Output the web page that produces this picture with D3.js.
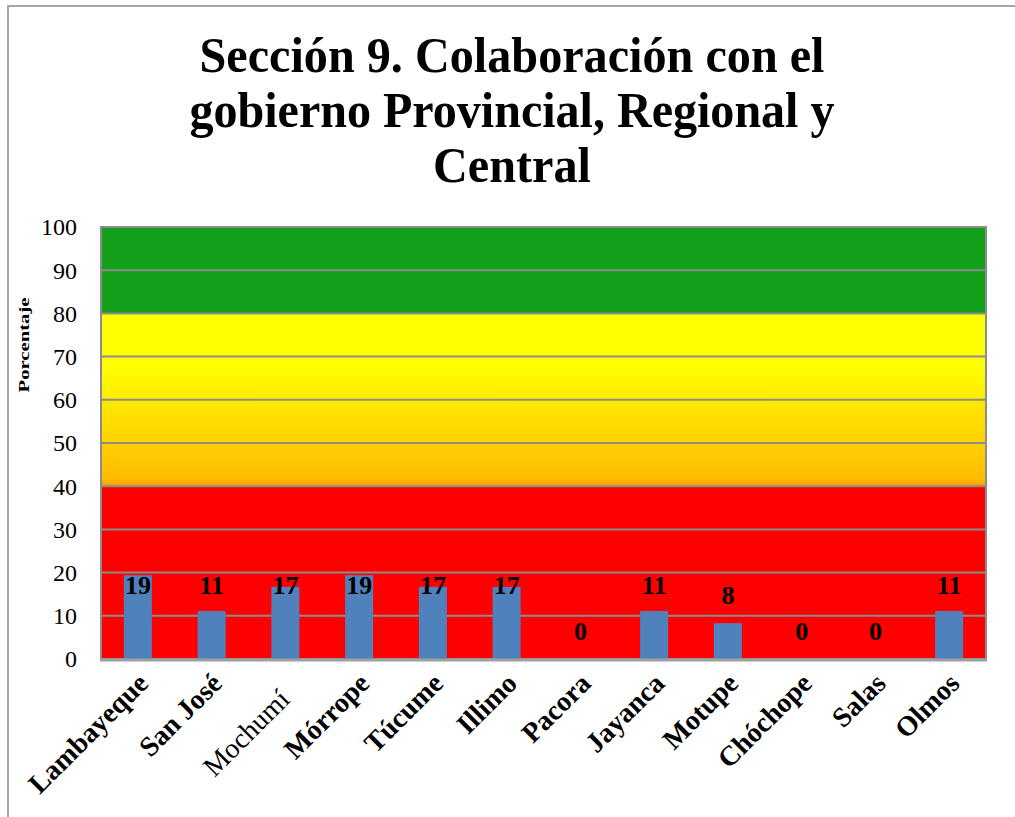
<!DOCTYPE html>
<meta charset="utf-8">
<title>Sección 9</title>
<style>
body { margin: 0; background: #fff; }
text { font-family: "Liberation Serif", "Times New Roman", serif; }
.grid line { stroke: #8c8c8c; stroke-width: 2; }
.title { font-weight: bold; font-size: 51px; }
.tick-y { font-size: 24px; }
.xlab { font-size: 28px; font-weight: bold; }
.val { font-size: 26px; font-weight: bold; }
</style>
<body>
<script src="https://d3js.org/d3.v7.min.js"></script>
<script>

// data
var distritos = ["Lambayeque", "San José", "Mochumí", "Mórrope", "Túcume", "Illimo",
                 "Pacora", "Jayanca", "Motupe", "Chóchope", "Salas", "Olmos"];
var porcentaje = [19.4, 11.1, 16.7, 19.4, 16.7, 16.7, 0, 11.1, 8.3, 0, 0, 11.1];
var yTicks = [0, 10, 20, 30, 40, 50, 60, 70, 80, 90, 100];
var bandLimits = [0, 40, 80, 100];   // red / yellow-orange / green
var titleLines = ["Sección 9. Colaboración con el", "gobierno Provincial, Regional y", "Central"];
var titleWidths = [625, 645, 158];

var W = 1015, H = 817;
var plot = {left: 101, right: 986, top: 227, bottom: 659};

var svg = d3.select("body").append("svg")
    .attr("width", W)
    .attr("height", H);

// outer frame
svg.append("rect")
    .attr("x", 8).attr("y", 6)
    .attr("width", W + 10).attr("height", H + 10)
    .attr("fill", "none")
    .attr("stroke", "#a6a6a6")
    .attr("stroke-width", 2);

var x = d3.scaleBand()
    .domain(distritos)
    .range([plot.left, plot.right])
    .paddingInner(0.62)
    .paddingOuter(0.31);

var y = d3.scaleLinear()
    .domain([0, 100])
    .range([plot.bottom, plot.top]);

// gradient for the middle band
var defs = svg.append("defs");
var grad = defs.append("linearGradient")
    .attr("id", "mid")
    .attr("x1", 0).attr("y1", 0).attr("x2", 0).attr("y2", 1);
grad.append("stop").attr("offset", "0%").attr("stop-color", "#ffff00");
grad.append("stop").attr("offset", "30%").attr("stop-color", "#ffff00");
grad.append("stop").attr("offset", "96%").attr("stop-color", "#ffbb00");
grad.append("stop").attr("offset", "100%").attr("stop-color", "#ff9900");

var bandFill = ["#ff0000", "url(#mid)", "#13a01a"];

svg.append("g").selectAll("rect")
    .data(d3.range(bandLimits.length - 1))
    .enter().append("rect")
    .attr("x", plot.left)
    .attr("width", plot.right - plot.left)
    .attr("y", function(i) { return y(bandLimits[i + 1]); })
    .attr("height", function(i) { return y(bandLimits[i]) - y(bandLimits[i + 1]); })
    .attr("fill", function(i) { return bandFill[i]; });

// gridlines
svg.append("g").attr("class", "grid")
    .selectAll("line")
    .data(yTicks)
    .enter().append("line")
    .attr("x1", plot.left).attr("x2", plot.right)
    .attr("y1", function(d) { return y(d); })
    .attr("y2", function(d) { return y(d); });

// plot border
svg.append("rect")
    .attr("x", plot.left).attr("y", plot.top)
    .attr("width", plot.right - plot.left)
    .attr("height", plot.bottom - plot.top)
    .attr("fill", "none")
    .attr("stroke", "#8c8c8c")
    .attr("stroke-width", 2);

// bars
svg.append("g").selectAll("rect")
    .data(porcentaje)
    .enter().append("rect")
    .attr("x", function(d, i) { return x(distritos[i]); })
    .attr("width", x.bandwidth())
    .attr("y", function(d) { return y(d); })
    .attr("height", function(d) { return plot.bottom - y(d); })
    .attr("fill", "#4f81bd");

// bottom axis line
svg.append("line")
    .attr("x1", plot.left - 1).attr("x2", plot.right + 1)
    .attr("y1", plot.bottom + 1).attr("y2", plot.bottom + 1)
    .attr("stroke", "#a0a0a0").attr("stroke-width", 3);

// value labels
svg.append("g").selectAll("text")
    .data(porcentaje)
    .enter().append("text")
    .attr("class", "val")
    .attr("text-anchor", "middle")
    .attr("dy", "0.35em")
    .attr("x", function(d, i) { return x(distritos[i]) + x.bandwidth() / 2; })
    .attr("y", function(d) { return Math.max(y(d) - 28, 585); })
    .text(function(d) { return d3.format(".0f")(d); });

// y tick labels
svg.append("g").selectAll("text")
    .data(yTicks)
    .enter().append("text")
    .attr("class", "tick-y")
    .attr("text-anchor", "end")
    .attr("dy", "0.35em")
    .attr("x", 77)
    .attr("y", function(d) { return y(d); })
    .text(function(d) { return d; });

// y axis title
svg.append("text")
    .attr("transform", "translate(29,345) rotate(-90)")
    .attr("text-anchor", "middle")
    .attr("font-size", 14)
    .attr("font-weight", "bold")
    .attr("textLength", 95)
    .attr("lengthAdjust", "spacingAndGlyphs")
    .text("Porcentaje");

// x labels, rotated (Mochumí is plain and sits a little lower in the original)
svg.append("g").selectAll("text")
    .data(distritos)
    .enter().append("text")
    .attr("class", "xlab")
    .attr("text-anchor", "end")
    .style("font-weight", function(d) { return d === "Mochumí" ? "normal" : "bold"; })
    .attr("transform", function(d) {
        var plain = d === "Mochumí";
        var cx = x(d) + x.bandwidth() / 2 + (plain ? 6 : 12);
        var cy = plot.bottom + (plain ? 42 : 26);
        return "translate(" + cx + "," + cy + ") rotate(-45)";
    })
    .text(function(d) { return d; });

// title
svg.append("g").selectAll("text")
    .data(titleLines)
    .enter().append("text")
    .attr("class", "title")
    .attr("text-anchor", "middle")
    .attr("x", 512)
    .attr("y", function(d, i) { return 72 + i * 55; })
    .attr("textLength", function(d, i) { return titleWidths[i]; })
    .attr("lengthAdjust", "spacingAndGlyphs")
    .text(function(d) { return d; });

</script>
</body>
